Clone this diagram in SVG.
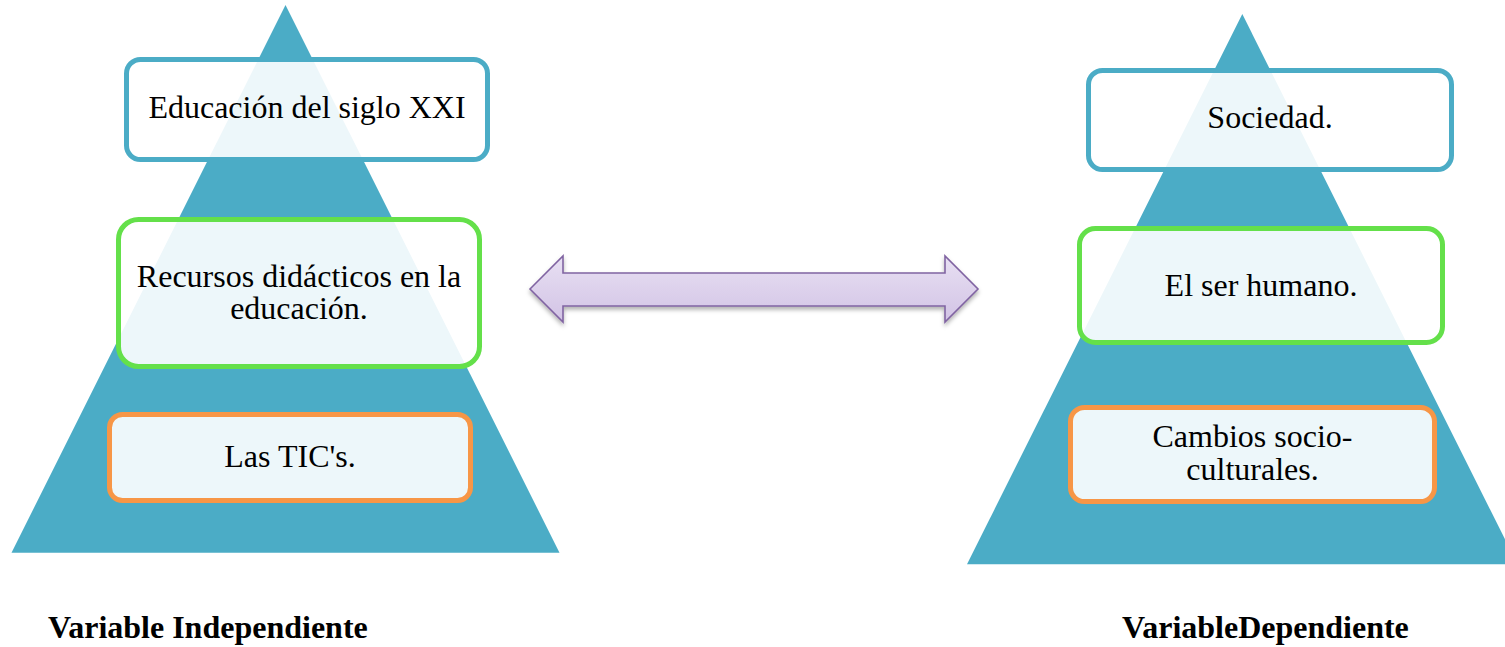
<svg xmlns="http://www.w3.org/2000/svg" width="1505" height="647" viewBox="0 0 1505 647">
  <style>
    .tri { fill: #4BACC6; }
    .box { fill: #FFFFFF; fill-opacity: 0.9; stroke-width: 5; }
    .blue { stroke: #4BACC6; }
    .green { stroke: #64E04A; }
    .orange { stroke: #F79646; }
    .t { font-family: "Liberation Serif", "Times New Roman", serif; font-size: 32px; fill: #000; text-anchor: middle; }
    .lbl { font-family: "Liberation Serif", "Times New Roman", serif; font-size: 32px; font-weight: bold; fill: #000; }
  </style>
  <defs>
    <linearGradient id="arrGrad" x1="0" y1="0" x2="0" y2="1">
      <stop offset="0" stop-color="#E8E0F3"/>
      <stop offset="1" stop-color="#D2C3E5"/>
    </linearGradient>
    <filter id="shadow" x="-5%" y="-30%" width="110%" height="160%">
      <feDropShadow dx="0" dy="3" stdDeviation="2" flood-color="#000" flood-opacity="0.3"/>
    </filter>
  </defs>

  <g id="pyramid-left">
    <polygon class="tri" points="285.5,5 11.5,552.7 559.5,552.7"/>
  </g>
  <g id="pyramid-right">
    <polygon class="tri" points="1242.3,14 967,564.3 1517.5,564.3"/>
  </g>

  <g id="node-educacion">
    <rect class="box blue" x="126.5" y="59.5" width="361" height="100" rx="14"/>
    <text class="t" x="307" y="118">Educación del siglo XXI</text>
  </g>
  <g id="node-recursos">
    <rect class="box green" x="118.5" y="219.5" width="361" height="147" rx="20"/>
    <text class="t" x="299" y="287">Recursos didácticos en la</text>
    <text class="t" x="299" y="319">educación.</text>
  </g>
  <g id="node-tics">
    <rect class="box orange" x="109.5" y="414.5" width="361" height="86" rx="13"/>
    <text class="t" x="290" y="467">Las TIC's.</text>
  </g>

  <g id="node-sociedad">
    <rect class="box blue" x="1088.5" y="70.5" width="363" height="99" rx="14"/>
    <text class="t" x="1270" y="128">Sociedad.</text>
  </g>
  <g id="node-humano">
    <rect class="box green" x="1079.5" y="228.5" width="363" height="114" rx="16"/>
    <text class="t" x="1261" y="296">El ser humano.</text>
  </g>
  <g id="node-cambios">
    <rect class="box orange" x="1070.5" y="407.5" width="364" height="94" rx="14"/>
    <text class="t" x="1252.5" y="447">Cambios socio-</text>
    <text class="t" x="1252.5" y="480">culturales.</text>
  </g>

  <g id="connectors">
    <path d="M530,289 L563,256 L563,273 L945,273 L945,256 L978,289 L945,322 L945,306 L563,306 L563,322 Z" fill="url(#arrGrad)" stroke="#8064A2" stroke-width="1.6" stroke-linejoin="miter" filter="url(#shadow)"/>
  </g>

  <g id="label-independiente">
    <text class="lbl" x="48" y="638">Variable Independiente</text>
  </g>
  <g id="label-dependiente">
    <text class="lbl" x="1122" y="638">VariableDependiente</text>
  </g>
</svg>
